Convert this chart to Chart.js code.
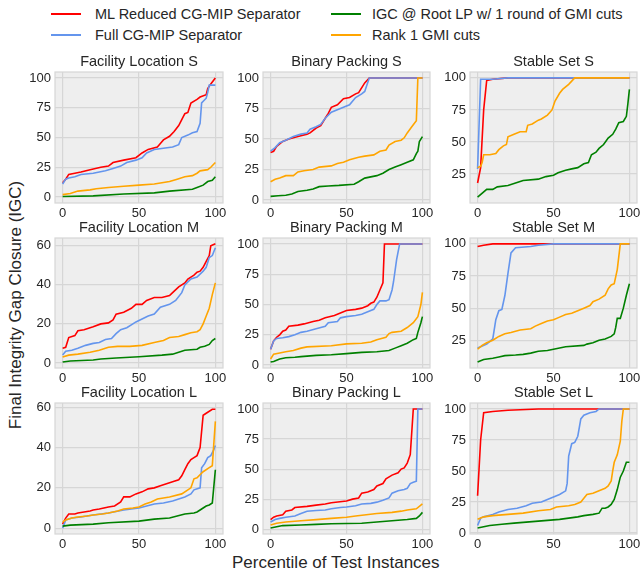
<!DOCTYPE html>
<html>
<head>
<meta charset="utf-8">
<script src="https://cdn.jsdelivr.net/npm/chart.js@4"></script>
<style>
body{margin:0;background:#fff;font-family:"Liberation Sans",Arial,sans-serif;color:#262626}
#wrap{position:relative;width:640px;height:575px;overflow:hidden}
canvas{position:absolute}
.leg{position:absolute;font-size:14.5px;white-space:nowrap;line-height:16px}
.sw{position:absolute;height:2px}
.lab{position:absolute;font-size:17px;white-space:nowrap;line-height:20px}
</style>
</head>
<body>
<div id="wrap">
  <div class="lab" style="left:232px;top:553px">Percentile of Test Instances</div>
  <div class="lab" style="left:16px;top:305px;transform:translate(-50%,-50%) rotate(-90deg)">Final Integrity Gap Closure (IGC)</div>
</div>
<script>
// series names + colours
var seriesNames = ['ML Reduced CG-MIP Separator', 'Full CG-MIP Separator', 'IGC @ Root LP w/ 1 round of GMI cuts', 'Rank 1 GMI cuts'];
var seriesColors = ['#ff0000', '#6495ed', '#008000', '#ffa500'];
var xTicks = [0, 50, 100];

// Facility Location S
var flS_ml = [[0,12],[2,15],[4,19],[8,20],[12,21],[18,23],[25,25],[30,26],[33,29],[40,31],[48,33],[52,37],[56,40],[62,42],[64,45],[66,48],[70,51],[73,55],[76,60],[78,65],[80,70],[82,71],[84,79],[88,82],[90,84],[94,86],[95,91],[97,95],[100,100]];
var flS_full = [[0,11],[2,15],[4,16],[8,17],[12,19],[20,20],[28,22],[33,24],[38,26],[42,29],[48,31],[52,33],[55,37],[60,40],[66,41],[72,42],[76,44],[78,50],[82,52],[85,54],[88,55],[90,62],[91,79],[94,83],[95,88],[96,94],[100,94]];
var flS_root = [[0,0.5],[20,1],[40,2.5],[60,3.5],[70,5],[85,6.5],[88,8],[92,10],[95,13],[98,14],[100,17]];
var flS_rank1 = [[0,2],[5,3],[10,5],[18,6],[22,7],[30,8],[40,9],[50,10],[60,11],[70,13],[75,15],[80,17],[85,18],[88,20],[90,22],[95,23],[97,25],[100,29]];

// Binary Packing S
var bpS_ml = [[0,39],[2,40],[4,44],[8,48],[12,50],[18,52],[24,54],[26,55],[30,59],[33,61],[36,67],[38,71],[40,76],[44,78],[48,83],[52,84],[56,87],[58,88],[62,96],[65,100],[100,100]];
var bpS_full = [[0,40],[3,43],[6,47],[10,49],[15,52],[20,54],[24,55],[26,58],[30,60],[33,62],[36,67],[40,72],[48,76],[52,78],[56,84],[60,87],[62,89],[65,100],[100,100]];
var bpS_root = [[0,3],[5,3.5],[10,4],[14,5],[18,7],[24,8],[28,9],[32,11],[38,11.5],[45,12],[55,13],[58,15],[62,18],[70,20],[74,22],[78,25],[82,27],[86,29],[90,31],[94,33],[96,38],[97,40],[98,48],[100,52]];
var bpS_rank1 = [[0,15],[3,17],[6,18],[10,20],[15,20],[18,23],[22,24],[28,25],[32,27],[40,28],[44,30],[48,31],[52,33],[58,35],[62,36],[68,37],[72,40],[76,41],[78,45],[82,48],[86,49],[88,51],[90,55],[93,60],[96,65],[97,100],[100,100]];

// Stable Set S
var ssS_ml = [[0,18],[2,30],[4,75],[6,98],[10,99],[20,100],[100,100]];
var ssS_full = [[0,29],[2,99],[10,99],[20,100],[100,100]];
var ssS_root = [[0,7],[6,13],[10,13],[13,15],[20,16],[25,18],[30,20],[40,21],[45,23],[50,24],[53,26],[58,28],[62,29],[66,30],[70,33],[73,34],[75,40],[78,42],[80,45],[83,48],[86,53],[89,56],[91,60],[93,65],[96,66],[98,70],[99,80],[100,91]];
var ssS_rank1 = [[0,30],[2,31],[3,34],[4,40],[8,40],[12,41],[14,44],[17,47],[19,48],[20,54],[24,56],[28,58],[32,58],[33,63],[36,64],[40,67],[42,68],[46,71],[49,75],[51,82],[54,88],[56,91],[60,95],[64,100],[100,100]];

// Facility Location M
var flM_ml = [[0,7.5],[2,8],[4,13],[8,14],[10,16.5],[14,17],[20,18.5],[25,20],[30,20.5],[33,22],[35,25],[40,26],[45,28],[48,30],[52,30],[55,32],[60,33.5],[65,33.5],[70,34.5],[72,36],[76,39],[80,41],[82,43],[86,45],[88,46.5],[90,47],[92,49],[94,52],[96,55],[97,60],[100,61]];
var flM_full = [[0,4],[2,6],[6,6.5],[10,7.5],[15,9],[20,10],[24,10.5],[28,12],[32,12.5],[35,15],[38,17],[42,18],[46,20],[48,21],[52,22.5],[56,24],[60,25],[64,28.5],[70,30],[74,32],[78,36],[80,40],[84,43],[88,44],[92,47],[94,49],[96,54],[98,55],[100,59]];
var flM_root = [[0,0.5],[5,1],[20,1.5],[25,2],[35,2.5],[50,3.2],[65,4],[72,4.5],[76,5.5],[80,6.5],[88,7],[90,8],[93,8.5],[96,9.5],[98,11.5],[100,12.5]];
var flM_rank1 = [[0,3],[4,4],[10,4.5],[18,5.5],[24,6.5],[30,8],[36,8.5],[44,8.5],[52,9],[60,10.5],[66,11.5],[70,13],[76,13.5],[80,14.5],[84,15.5],[88,16],[90,17],[92,20],[94,24],[96,28],[98,35],[100,41]];

// Binary Packing M
var bpM_ml = [[0,13],[2,20],[4,23],[6,25],[8,28],[10,29],[12,32],[18,33],[22,34],[28,36],[32,37],[36,39],[42,41],[46,43],[50,45],[56,46],[60,47],[64,49],[66,51],[68,52],[70,56],[72,62],[74,68],[75,100],[100,100]];
var bpM_full = [[0,13],[2,20],[4,22],[8,22.5],[12,23.5],[16,25],[20,27],[24,28],[30,30],[36,32],[38,35],[44,36],[46,39],[50,40],[56,41],[60,42],[64,44],[68,46],[70,50],[72,53],[76,53],[78,54],[80,62],[81,69],[83,87],[85,100],[100,100]];
var bpM_root = [[0,2.5],[2,3],[4,4],[6,5],[10,6],[16,6.5],[20,7],[30,8],[40,8.5],[50,9.5],[60,10.5],[70,11],[78,12],[82,14],[86,16],[90,18],[94,21],[96,22],[97,27],[99,35],[100,40]];
var bpM_rank1 = [[0,5],[2,9],[6,10],[10,11],[15,12],[20,14],[24,15],[40,16],[50,17.5],[60,18],[66,19],[70,21],[76,23],[78,26],[80,27],[86,28],[90,31],[94,35],[97,40],[99,50],[100,60]];

// Stable Set M
var ssM_ml = [[0,98],[4,99],[10,100],[100,100]];
var ssM_full = [[0,19],[2,20],[6,22],[10,26],[12,41],[14,48],[16,49],[18,60],[20,77],[22,93],[25,97],[35,98],[40,99],[50,100],[100,100]];
var ssM_root = [[0,8],[4,10],[10,11],[14,12],[18,13],[25,13.5],[30,14],[35,15],[40,16.5],[46,17],[50,18],[54,19],[58,20],[70,21],[72,22],[76,23],[80,25],[84,26],[88,28],[90,30],[91,35],[92,42],[94,42],[96,50],[98,60],[100,69]];
var ssM_rank1 = [[0,18],[3,21],[6,23],[10,25],[14,28],[18,30],[22,31],[28,33],[35,34],[38,36],[42,38],[46,40],[50,41],[54,43],[58,45],[62,46],[66,48],[70,50],[74,52],[76,55],[80,57],[84,60],[86,65],[88,68],[90,69],[92,80],[94,100],[100,100]];

// Facility Location L
var flL_ml = [[0,2],[2,5],[4,7],[8,7],[10,7.5],[14,8],[18,8.5],[20,9],[24,9.5],[30,10.5],[34,11],[38,13],[40,15.5],[44,15.5],[48,17],[52,18],[56,19.5],[60,20],[64,21],[68,22],[72,23],[76,24],[78,26],[80,29],[82,32],[84,34],[86,35],[88,36],[90,40],[92,56],[94,57],[98,59],[100,59]];
var flL_full = [[0,0],[2,4],[6,5],[12,5.5],[20,6.5],[30,7.5],[40,9],[50,10],[55,11],[60,12],[66,12.5],[72,13.5],[76,14.5],[80,15.5],[84,17],[86,19],[90,20],[91,30],[93,32],[95,35],[97,36],[99,39],[100,41]];
var flL_root = [[0,1],[5,1.5],[20,2],[30,2.7],[50,3.5],[60,4.5],[70,5],[75,6],[80,7],[86,7.5],[88,8],[90,9],[92,10],[94,11],[96,11.5],[98,12.5],[100,29]];
var flL_rank1 = [[0,3],[2,4],[6,5],[10,5.5],[16,6],[20,6.5],[26,7],[30,7.5],[36,8.5],[40,9.5],[46,10],[50,10.5],[54,12],[58,13],[62,14.5],[66,15],[70,15.5],[78,17],[82,19],[84,20],[86,24.5],[88,25],[92,28],[96,30],[98,31],[100,53]];

// Binary Packing L
var bpL_ml = [[0,8],[2,10],[4,11],[8,12],[10,15],[14,16],[16,18],[24,19],[30,20],[36,21],[40,22],[50,23.5],[54,25],[58,26],[60,30],[64,31],[68,33],[70,36],[74,38],[76,42],[80,45],[84,47],[86,50],[88,51],[90,55],[92,62],[94,100],[100,100]];
var bpL_full = [[0,6],[3,8],[6,9],[10,10],[16,11],[20,13],[24,15],[30,15.5],[36,16],[40,17],[46,18],[50,18.5],[56,19.5],[60,21],[66,21.5],[70,22.5],[74,24],[78,26],[80,30],[84,32],[88,33],[90,34],[92,38],[94,39],[96,40],[97,100],[100,100]];
var bpL_root = [[0,1],[4,2],[8,3],[20,3.5],[30,4],[40,4.5],[60,5],[70,6],[80,7],[90,8],[96,9],[98,11],[100,14]];
var bpL_rank1 = [[0,3.5],[4,5],[10,6],[20,7],[30,8],[40,9],[50,10],[56,11],[70,13],[80,14],[86,15],[90,16],[96,17],[100,21]];

// Stable Set L
var ssL_ml = [[0,30],[2,75],[4,97],[10,98],[20,99],[40,100],[100,100]];
var ssL_full = [[0,6],[2,12],[4,13],[10,15],[14,17],[20,19],[26,20],[32,22],[36,24],[42,25],[46,27],[50,29],[54,31],[58,34],[59,40],[60,62],[62,72],[64,73],[66,78],[68,92],[70,95],[74,97],[78,98],[80,100],[100,100]];
var ssL_root = [[0,4],[4,5],[8,6],[16,7],[24,8],[34,9],[44,10],[54,11],[60,12],[66,13],[70,14],[76,15],[80,16],[82,20],[84,20],[86,21],[88,23],[90,27],[92,35],[94,45],[96,50],[98,57],[100,57]];
var ssL_rank1 = [[0,11],[4,13],[10,14],[20,15],[30,16],[40,18],[48,19],[52,21],[60,22],[64,23],[68,25],[70,28],[72,31],[76,32],[80,34],[84,36],[86,38],[88,42],[89,50],[90,57],[92,63],[94,74],[95,90],[96,100],[100,100]];

var panels = [
  {title:'Facility Location S', r:0, c:0, s:[flS_ml, flS_full, flS_root, flS_rank1], min:-5, max:105, ticks:[0,25,50,75,100]},
  {title:'Binary Packing S', r:0, c:1, s:[bpS_ml, bpS_full, bpS_root, bpS_rank1], min:-2.4, max:104.9, ticks:[0,25,50,75,100]},
  {title:'Stable Set S', r:0, c:2, s:[ssS_ml, ssS_full, ssS_root, ssS_rank1], min:2.4, max:104.6, ticks:[25,50,75,100]},
  {title:'Facility Location M', r:1, c:0, s:[flM_ml, flM_full, flM_root, flM_rank1], min:-2.6, max:64, ticks:[0,20,40,60]},
  {title:'Binary Packing M', r:1, c:1, s:[bpM_ml, bpM_full, bpM_root, bpM_rank1], min:-2.4, max:104.9, ticks:[0,25,50,75,100]},
  {title:'Stable Set M', r:1, c:2, s:[ssM_ml, ssM_full, ssM_root, ssM_rank1], min:3.4, max:104.6, ticks:[25,50,75,100]},
  {title:'Facility Location L', r:2, c:0, s:[flL_ml, flL_full, flL_root, flL_rank1], min:-2.9, max:62.1, ticks:[0,20,40,60]},
  {title:'Binary Packing L', r:2, c:1, s:[bpL_ml, bpL_full, bpL_root, bpL_rank1], min:-4, max:105, ticks:[0,25,50,75,100]},
  {title:'Stable Set L', r:2, c:2, s:[ssL_ml, ssL_full, ssL_root, ssL_rank1], min:-0.8, max:104.8, ticks:[0,25,50,75,100]}
];

// plot area boxes
var cols = [{L:55, W:168}, {L:263, W:167}, {L:470, W:167}];
var rows = [{T:72, H:131}, {T:238, H:130}, {T:403, H:131}];
var YW = 44, TH = 19, XH = 22, PR = 14;

Chart.defaults.font.family = '"Liberation Sans", Arial, sans-serif';
Chart.defaults.color = '#262626';

var plotBg = {
  id: 'plotBg',
  beforeDraw: function(chart) {
    var a = chart.chartArea, ctx = chart.ctx;
    ctx.save();
    ctx.fillStyle = '#eeeeee';
    ctx.fillRect(a.left, a.top, a.right - a.left, a.bottom - a.top);
    ctx.restore();
  },
  afterDatasetsDraw: function(chart) {
    var a = chart.chartArea, ctx = chart.ctx;
    ctx.save();
    ctx.strokeStyle = '#d6d6d6';
    ctx.lineWidth = 1.2;
    ctx.strokeRect(a.left, a.top, a.right - a.left, a.bottom - a.top);
    ctx.restore();
  }
};

var wrap = document.getElementById('wrap');

// legend
var legPos = [{x:51, y:6}, {x:51, y:27}, {x:331, y:6}, {x:331, y:27}];
seriesNames.forEach(function(name, i) {
  var p = legPos[i];
  var sw = document.createElement('div');
  sw.className = 'sw';
  sw.style.left = p.x + 'px';
  sw.style.top = (p.y + 7) + 'px';
  sw.style.width = '30px';
  sw.style.background = seriesColors[i];
  wrap.appendChild(sw);
  var t = document.createElement('div');
  t.className = 'leg';
  t.style.left = (p.x + (i < 2 ? 44 : 41)) + 'px';
  t.style.top = p.y + 'px';
  t.textContent = name;
  wrap.appendChild(t);
});

panels.forEach(function(p) {
  var col = cols[p.c], row = rows[p.r];
  var cv = document.createElement('canvas');
  cv.width = col.W + YW + PR;
  cv.height = row.H + TH + XH;
  cv.style.left = (col.L - YW) + 'px';
  cv.style.top = (row.T - TH) + 'px';
  wrap.appendChild(cv);

  // orange drawn on top, red at the bottom
  var order = [3, 2, 1, 0];
  var datasets = order.map(function(k) {
    return {
      label: seriesNames[k],
      data: p.s[k].map(function(pt) { return {x: pt[0], y: pt[1]}; }),
      borderColor: seriesColors[k],
      borderWidth: 1.6,
      pointRadius: 0,
      tension: 0,
      fill: false
    };
  });

  new Chart(cv, {
    type: 'line',
    data: {datasets: datasets},
    options: {
      responsive: false,
      animation: false,
      layout: {padding: {left: 0, right: PR, top: 0, bottom: 0}},
      plugins: {
        legend: {display: false},
        tooltip: {enabled: false},
        title: {
          display: true,
          fullSize: false,
          text: p.title,
          font: {size: 14.5, weight: 'normal'},
          color: '#262626',
          padding: {top: 0, bottom: TH - 17.4}
        }
      },
      scales: {
        x: {
          type: 'linear',
          min: -5, max: 105,
          afterBuildTicks: function(s) { s.ticks = xTicks.map(function(v) { return {value: v}; }); },
          afterFit: function(s) { s.height = XH; },
          ticks: {font: {size: 13}, color: '#262626', padding: 3, maxRotation: 0},
          grid: {color: '#d6d6d6', lineWidth: 1.2, drawTicks: false},
          border: {display: false}
        },
        y: {
          type: 'linear',
          min: p.min, max: p.max,
          afterBuildTicks: function(s) { s.ticks = p.ticks.map(function(v) { return {value: v}; }); },
          afterFit: function(s) { s.width = YW; },
          ticks: {font: {size: 13}, color: '#262626', padding: 4},
          grid: {color: '#d6d6d6', lineWidth: 1.2, drawTicks: false},
          border: {display: false}
        }
      }
    },
    plugins: [plotBg]
  });
});
</script>
</body>
</html>
